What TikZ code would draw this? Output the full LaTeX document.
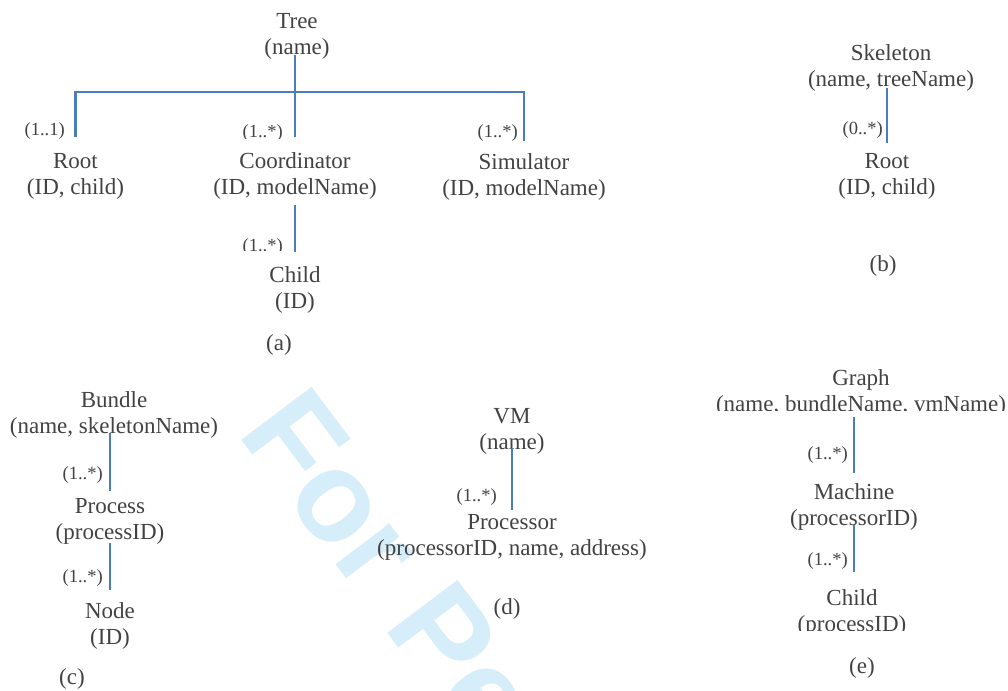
\documentclass[tikz,border=0pt]{standalone}
\usepackage{fontspec}
\setmainfont{Liberation Serif}
\newfontfamily\markfont{Liberation Sans}
\usetikzlibrary{calc}

\definecolor{inkgray}{RGB}{66,66,66}
\definecolor{linkblue}{RGB}{74,126,187}
\definecolor{markcyan}{RGB}{214,238,250}

% entity title on the first line, its attributes on the second
\newcommand{\twoline}[2]{\strut #1\\\strut #2}

\begin{document}
\begin{tikzpicture}[x=0.75pt,y=-0.75pt,
  entity/.style={align=center, inner sep=0pt, text=inkgray,
    font=\fontsize{17.25}{19.5}\selectfont},
  mult/.style={anchor=base east, inner sep=0pt, text=inkgray,
    font=\fontsize{13.9}{16}\selectfont},
  caption/.style={anchor=base, inner sep=0pt, text=inkgray,
    font=\fontsize{17.25}{19.5}\selectfont},
  link/.style={draw=linkblue, line width=1.6pt},
  watermark/.style={anchor=base west, inner sep=0pt, rotate=-53, text=markcyan,
    font=\markfont\bfseries\fontsize{96}{100}\selectfont}]

\useasboundingbox (0,0) rectangle (1008,690);
\fill[white] (0,0) rectangle (1008,690);

% background watermark
\begin{scope}
  \clip (0,0) rectangle (1008,690);
  \node[watermark] (mark) at (236.6,432.8) {For Peer Review};
\end{scope}

% (a) Tree
\node[entity] (tree)   at (297,35.8)   {\twoline{Tree}{(name)}};
\node[entity] (rootA)  at (75.5,175.8) {\twoline{Root}{(ID, child)}};
\node[entity] (coordA) at (295,175.8)  {\twoline{Coordinator}{(ID, modelName)}};
\node[entity] (simA)   at (524,176.8)  {\twoline{Simulator}{(ID, modelName)}};
\node[entity] (childA) at (295,289.8)  {\twoline{Child}{(ID)}};
\coordinate (bar) at (295,92);

\draw[link] ($(coordA.north |- tree.south)+(0,-6.8)$) -- ($(coordA.north)+(0,-12.8)$);
\draw[link] ($(rootA.north)+(0,-12.8)$) |- (bar) -| ($(simA.north)+(0,-9.8)$);
\draw[link] ($(coordA.south)+(0,3.2)$) -- ($(childA.north)+(0,-11.8)$);

\node[mult] (mRootA)  at (65,135)    {(1..1)};
\begin{scope}
  \clip (200,110) rectangle (290,138.5);
  \node[mult] (mCoordA) at (283,137.5) {(1..*)};
\end{scope}
\node[mult] (mSimA)   at (518,137)   {(1..*)};
\begin{scope}
  \clip (200,225) rectangle (290,250);
  \node[mult] (mChildA) at (283,251)   {(1..*)};
\end{scope}
\node[caption] (capA) at (279,350)   {(a)};

% (b) Skeleton
\node[entity] (skel)  at (891,67.8)  {\twoline{Skeleton}{(name, treeName)}};
\node[entity] (rootB) at (887,175.8) {\twoline{Root}{(ID, child)}};
\draw[link] ($(rootB.north |- skel.south)+(0,-5.8)$) -- ($(rootB.north)+(0,-6.8)$);
\node[mult] (mRootB) at (883,134) {(0..*)};
\node[caption] (capB) at (883,271) {(b)};

% (c) Bundle
\node[entity] (bundle)  at (114,414.8) {\twoline{Bundle}{(name, skeletonName)}};
\node[entity] (process) at (110,520.8) {\twoline{Process}{(processID)}};
\node[entity] (nodeC)   at (110,625.8) {\twoline{Node}{(ID)}};
\draw[link] ($(process.north |- bundle.south)+(0,-7.8)$) -- ($(process.north)+(0,-3.8)$);
\draw[link] ($(process.south)+(0,-3.8)$) -- ($(nodeC.north)+(0,-9.8)$);
\node[mult] (mProcess) at (103,479) {(1..*)};
\node[mult] (mNode)    at (103,582) {(1..*)};
\node[caption] (capC) at (72,684) {(c)};

% (d) VM
\node[entity] (vm)        at (512,430.8) {\twoline{VM}{(name)}};
\node[entity] (processor) at (512,536.8) {\twoline{Processor}{(processorID, name, address)}};
\draw[link] ($(vm.south)+(0,-8.8)$) -- ($(processor.north)+(0,-0.8)$);
\node[mult] (mProcessor) at (497,501) {(1..*)};
\node[caption] (capD) at (507,614) {(d)};

% (e) Graph
\begin{scope}
  \clip (600,340) rectangle (1008,410);
  \node[entity] (graph) at (861,392.8) {\twoline{Graph}{(name, bundleName, vmName)}};
\end{scope}
\node[entity] (machine) at (854,506.8) {\twoline{Machine}{(processorID)}};
\begin{scope}
  \clip (700,570) rectangle (1008,630);
  \node[entity] (childE) at (852,612.8) {\twoline{Child}{(processID)}};
\end{scope}
\draw[link] ($(machine.north |- graph.south)+(0,-1.8)$) -- ($(machine.north)+(0,-7.8)$);
\draw[link] ($(machine.south)+(0,-7.8)$) -- ($(machine.south |- childE.north)+(0,-14.8)$);
\node[mult] (mMachine) at (848,459) {(1..*)};
\node[mult] (mChildE)  at (848,565) {(1..*)};
\node[caption] (capE) at (862,673) {(e)};

\end{tikzpicture}
\end{document}
